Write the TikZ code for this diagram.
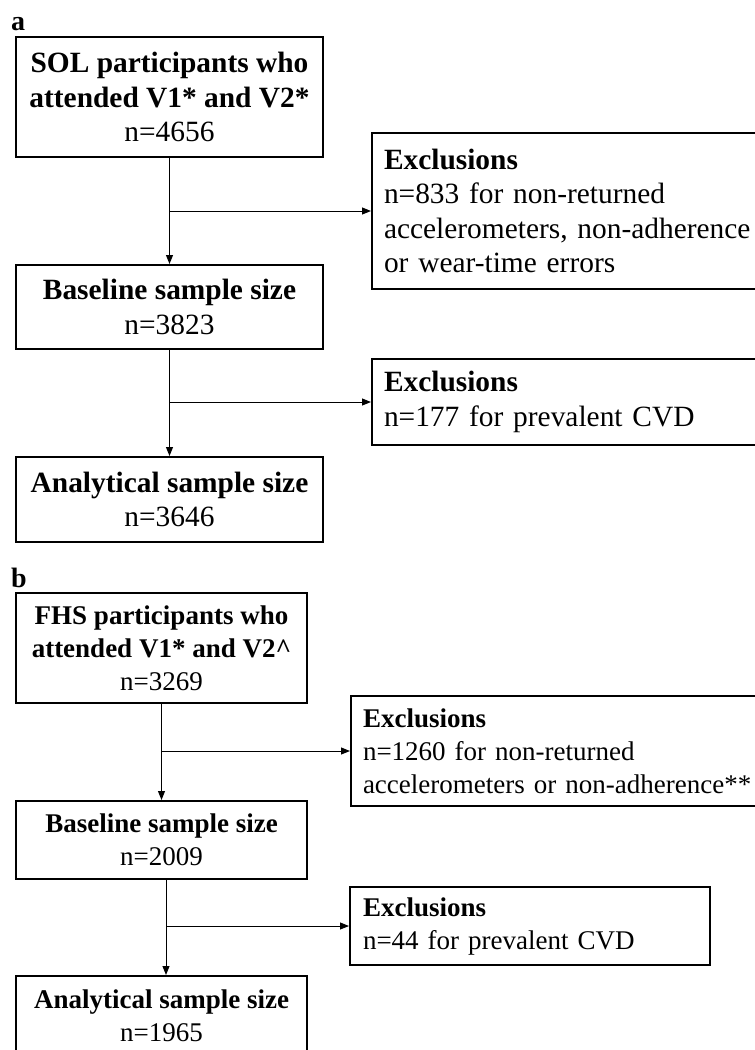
\documentclass[tikz,border=0pt]{standalone}
\usepackage{fontspec}
\setmainfont{Liberation Serif}
\usetikzlibrary{arrows.meta}
\newcommand{\afont}{\fontsize{29.4bp}{34.5bp}\selectfont}
\newcommand{\bfnt}{\fontsize{27bp}{33bp}\selectfont}
\begin{document}
\begin{tikzpicture}[x=1bp,y=-1bp,
  box/.style={draw,line width=2bp,inner sep=0pt,align=center},
  exbox/.style={draw,line width=2bp,inner ysep=0pt,align=left,anchor=west},
  conn/.style={line width=1bp,-{Triangle[length=9bp,width=7bp]}},
  panel/.style={font=\fontsize{28bp}{30bp}\selectfont\bfseries,anchor=base,inner sep=0pt}]
\useasboundingbox (0,0) rectangle (755,1050);
% panel a
\node[panel] (la) at (18,30.5) {a};
\node[box,minimum width=307bp,minimum height=120bp,font=\afont] (a1) at (169.5,97)
  {\textbf{SOL participants who}\\\textbf{attended V1* and V2*}\\n=4656};
\node[box,minimum width=307bp,minimum height=84bp,font=\afont] (a2) at (169.5,307)
  {\textbf{Baseline sample size}\\n=3823};
\node[box,minimum width=307bp,minimum height=85bp,font=\afont] (a3) at (169.5,499.5)
  {\textbf{Analytical sample size}\\n=3646};
\node[exbox,inner xsep=12bp,text width=396bp,minimum height=156bp,font=\afont] (e1) at (371,211)
  {\textbf{Exclusions}\\n=833 for non-returned\\accelerometers, non-adherence\\or wear-time errors};
\node[exbox,inner xsep=12bp,text width=396bp,minimum height=86bp,font=\afont] (e2) at (371,402)
  {\textbf{Exclusions}\\n=177 for prevalent CVD};
\draw[conn] (a1) -- (a2);
\draw[conn] (a1 |- e1) -- (e1);
\draw[conn] (a2) -- (a3);
\draw[conn] (a2 |- e2) -- (e2);
% panel b
\node[panel] (lb) at (19,587) {b};
\node[box,minimum width=291bp,minimum height=110bp,font=\bfnt] (b1) at (161.5,648)
  {\textbf{FHS participants who}\\\textbf{attended V1* and V2\^{}}\\n=3269};
\node[box,minimum width=291bp,minimum height=78bp,font=\bfnt] (b2) at (161.5,840)
  {\textbf{Baseline sample size}\\n=2009};
\node[box,minimum width=291bp,minimum height=80bp,font=\bfnt] (b3) at (161.5,1016)
  {\textbf{Analytical sample size}\\n=1965};
\node[exbox,inner xsep=12bp,text width=396bp,minimum height=110bp,font=\bfnt] (e3) at (350,751)
  {\textbf{Exclusions}\\n=1260 for non-returned\\accelerometers or non-adherence**};
\node[exbox,inner xsep=13bp,text width=334bp,minimum height=78bp,font=\bfnt] (e4) at (349,926)
  {\textbf{Exclusions}\\n=44 for prevalent CVD};
\draw[conn] (b1) -- (b2);
\draw[conn] (b1 |- e3) -- (e3);
\coordinate (b2s) at ([xshift=4.5bp]b2.south);
\draw[conn] (b2s) -- (b2s |- b3.north);
\draw[conn] (b2s |- e4.west) -- (e4.west);
\end{tikzpicture}
\end{document}
